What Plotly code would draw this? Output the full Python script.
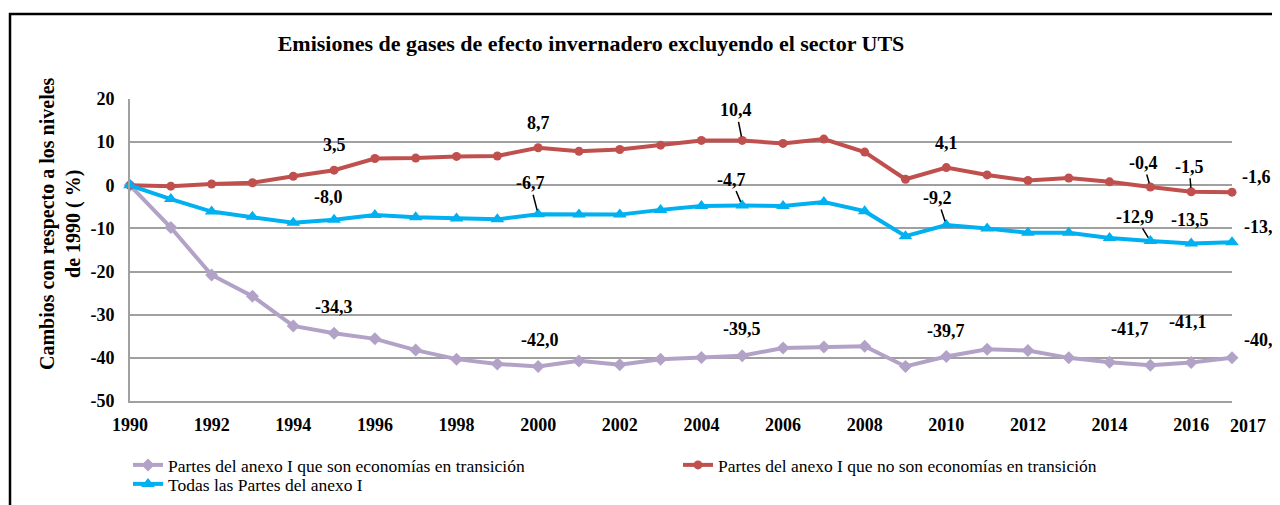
"""
Emisiones de gases de efecto invernadero excluyendo el sector UTS
Three series, % change vs 1990, Excel-style line chart
"""
import plotly.graph_objects as go

# ── data ────────────────────────────────────────────────
YEARS = list(range(1990, 2018))

TRANSICION = [0, -9.8, -20.8, -25.7, -32.6, -34.3, -35.6, -38.2, -40.3, -41.4,
              -42.0, -40.7, -41.6, -40.3, -39.9, -39.5, -37.7, -37.5, -37.3, -42.0,
              -39.7, -38.0, -38.3, -40.0, -41.0, -41.7, -41.1, -40.0]
NO_TRANSICION = [0, -0.2, 0.3, 0.6, 2.1, 3.5, 6.2, 6.3, 6.7, 6.8,
                 8.7, 7.9, 8.3, 9.3, 10.4, 10.4, 9.7, 10.7, 7.7, 1.4,
                 4.1, 2.4, 1.1, 1.7, 0.8, -0.4, -1.5, -1.6]
TODAS = [0, -3.2, -6.1, -7.3, -8.7, -8.0, -6.9, -7.4, -7.7, -7.9,
         -6.7, -6.8, -6.8, -5.7, -4.8, -4.7, -4.8, -3.9, -6.0, -11.8,
         -9.2, -10.0, -11.0, -11.0, -12.2, -12.9, -13.5, -13.2]

NAMES = ["Partes del anexo I que son economías en transición",
         "Partes del anexo I que no son economías en transición",
         "Todas las Partes del anexo I"]

LABEL_YEARS = [1995, 2000, 2005, 2010, 2015, 2016, 2017]
YTICKS = [-50, -40, -30, -20, -10, 0, 10, 20]
XTICKS = list(range(1990, 2017, 2))

# ── geometry (page px; the page body adds an 8px margin) ─
PAGE_M = 8
W, H = 1280 - PAGE_M, 505 - PAGE_M
X0, X1, Y0, Y1 = 130, 1232, 99, 401      # plot area on the page
L, T = X0 - PAGE_M, Y0 - PAGE_M
R, B = W - (X1 - PAGE_M), H - (Y1 - PAGE_M)
PW, PH = X1 - X0, Y1 - Y0

def px(x):   # page x -> paper x
    return (x - X0) / PW

def py(y):   # page y -> paper y
    return (Y1 - y) / PH

SERIF = "Liberation Serif, Times New Roman, serif"
GRID = "#a0a0a0"
COL = {"tr": "#b3a2c7", "no": "#c0504d", "all": "#00b0f0"}

# label offsets in px: (dx, dy_up, leader)
OFF = {
    "no":  {1995: (0, 25, 0), 2000: (0, 25, 0), 2005: (-6, 30, 1), 2010: (0, 25, 0),
            2015: (-7, 24, 1), 2016: (-2, 25, 1), 2017: (24, 15, 0)},
    "all": {1995: (-6, 23, 0), 2000: (-8, 31, 1), 2005: (-11, 26, 1), 2010: (-9, 27, 1),
            2015: (-15, 24, 1), 2016: (-1, 24, 0), 2017: (31, 15, 0)},
    "tr":  {1995: (0, 26, 0), 2000: (2, 26, 0), 2005: (0, 27, 0), 2010: (0, 26, 0),
            2015: (-20, 36, 0), 2016: (-3, 41, 0), 2017: (31, 18, 0)},
}

fig = go.Figure()

series = [("tr", TRANSICION, NAMES[0], "diamond", 10, "legend"),
          ("no", NO_TRANSICION, NAMES[1], "circle", 9, "legend"),
          ("all", TODAS, NAMES[2], "triangle-up", 12, "legend2")]

for key, vals, name, sym, msize, leg in series:
    fig.add_trace(go.Scatter(
        x=YEARS, y=vals, name=name, mode="lines+markers",
        line=dict(color=COL[key], width=4),
        marker=dict(symbol=sym, size=msize, color=COL[key]),
        cliponaxis=False, legend=leg,
    ))

# ── data labels ─────────────────────────────────────────
def fmt(v):
    return f"<b>{v:.1f}</b>".replace(".", ",")

for key, vals, *_ in series:
    for yr in LABEL_YEARS:
        v = vals[YEARS.index(yr)]
        dx, dy, leader = OFF[key][yr]
        base = dict(x=yr, y=v, text=fmt(v),
                    font=dict(family=SERIF, size=18, color="#000000"))
        if leader:
            fig.add_annotation(**base, showarrow=True, arrowhead=0, arrowwidth=1.5,
                               arrowcolor="#000000", ax=dx, ay=-dy, standoff=4)
        else:
            fig.add_annotation(**base, showarrow=False, xshift=dx, yshift=dy)

# 2017 tick label sits a bit to the right in the original
fig.add_annotation(x=YEARS[-1], y=0, yref="paper", yanchor="top", text="<b>2017</b>",
                   showarrow=False, xshift=16, yshift=-13,
                   font=dict(family=SERIF, size=18, color="#000000"))

# y-axis title
fig.add_annotation(xref="paper", yref="paper", x=px(60), y=py(224),
                   xanchor="center", yanchor="middle",
                   text="<b>Cambios con respecto a los niveles<br>de 1990 ( %)</b>",
                   textangle=-90, showarrow=False,
                   font=dict(family=SERIF, size=20, color="#000000"))

# outer frame (right and bottom fall outside the picture)
fig.add_shape(type="rect", xref="paper", yref="paper",
              x0=px(10), x1=px(1300), y0=py(530), y1=py(14),
              line=dict(color="#000000", width=2.5), layer="above")

# ── axes & layout ───────────────────────────────────────
fig.update_xaxes(range=[YEARS[0], YEARS[-1]], tickvals=XTICKS,
                 ticktext=[f"<b>{y}</b>" for y in XTICKS],
                 showgrid=False, zeroline=False,
                 showline=True, linecolor=GRID, linewidth=2,
                 ticks="", ticklabelstandoff=6,
                 tickfont=dict(family=SERIF, size=18, color="#000000"))
fig.update_yaxes(range=[YTICKS[0], YTICKS[-1]], tickvals=YTICKS,
                 ticktext=[f"<b>{y}</b>" for y in YTICKS],
                 showgrid=True, gridcolor=GRID, gridwidth=2, zeroline=False,
                 showline=True, linecolor=GRID, linewidth=2,
                 ticks="", ticklabelstandoff=10,
                 tickfont=dict(family=SERIF, size=18, color="#000000"))

LEG = dict(orientation="h", x=px(128), xanchor="left", yanchor="middle",
           entrywidth=505, tracegroupgap=0, itemwidth=30,
           font=dict(family=SERIF, size=17.5, color="#000000"),
           bgcolor="rgba(0,0,0,0)")

fig.update_layout(
    width=W, height=H,
    margin=dict(l=L, r=R, t=T, b=B, autoexpand=False),
    paper_bgcolor="#ffffff", plot_bgcolor="#ffffff",
    title=dict(text="<b>Emisiones de gases de efecto invernadero excluyendo el sector UTS</b>",
               x=(591 - PAGE_M) / W, xanchor="center", xref="container",
               y=1 - (43 - PAGE_M) / H, yanchor="middle", yref="container",
               font=dict(family=SERIF, size=22, color="#000000")),
    showlegend=True,
    legend=dict(LEG, y=py(465)),
    legend2=dict(LEG, y=py(484)),
)

fig.write_html("out.html")
